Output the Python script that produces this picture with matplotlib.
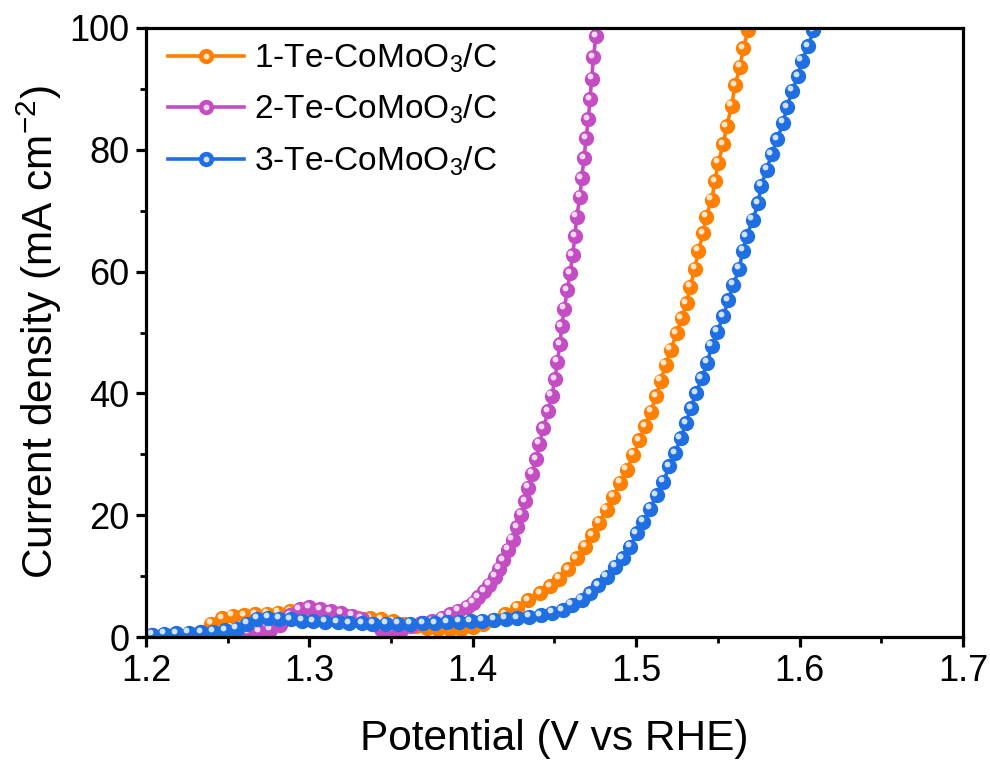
import numpy as np
import matplotlib
matplotlib.use("Agg")
import matplotlib.pyplot as plt
from matplotlib.transforms import offset_copy
from matplotlib.legend_handler import HandlerTuple
from matplotlib.ticker import MultipleLocator

plt.rcParams["font.family"] = ["Liberation Sans", "DejaVu Sans"]
plt.rcParams["mathtext.default"] = "regular"

# potential (V vs RHE) and current density (mA cm-2)
pot_1 = [1.2035, 1.2110, 1.2185, 1.2260, 1.2330, 1.2400, 1.2465, 1.2530, 1.2600, 1.2670,
         1.2740, 1.2810, 1.2880, 1.2950, 1.3020, 1.3090, 1.3160, 1.3230, 1.3300, 1.3370,
         1.3440, 1.3510, 1.3580, 1.3650, 1.3720, 1.3790, 1.3860, 1.3930, 1.4000, 1.4065,
         1.4126, 1.4197, 1.4269, 1.4340, 1.4411, 1.4472, 1.4530, 1.4585, 1.4636, 1.4687,
         1.4728, 1.4774, 1.4819, 1.4860, 1.4901, 1.4942, 1.4983, 1.5019, 1.5054, 1.5089,
         1.5121, 1.5150, 1.5180, 1.5211, 1.5248, 1.5278, 1.5309, 1.5330, 1.5360, 1.5380,
         1.5411, 1.5427, 1.5462, 1.5482, 1.5502, 1.5533, 1.5554, 1.5584, 1.5605, 1.5635,
         1.5656, 1.5686]
cur_1 = [0.3, 0.3, 0.4, 0.5, 0.9, 2.2, 3.1, 3.5, 3.6, 3.7,
         3.8, 4.0, 4.2, 4.2, 4.0, 3.8, 3.6, 3.4, 3.2, 3.1,
         2.9, 2.6, 2.2, 1.8, 1.5, 1.4, 1.3, 1.4, 1.7, 2.2,
         2.8, 3.7, 4.8, 6.0, 7.2, 8.3, 9.6, 11.1, 12.9, 14.8,
         16.7, 18.8, 20.9, 23.0, 25.3, 27.5, 29.9, 32.3, 34.6, 37.0,
         39.5, 42.1, 44.7, 47.2, 49.9, 52.3, 54.8, 57.5, 60.5, 63.4,
         66.3, 69.0, 71.8, 74.8, 77.9, 80.9, 83.9, 87.2, 90.6, 93.6,
         96.7, 99.7]

pot_2 = [1.2035, 1.2110, 1.2185, 1.2260, 1.2335, 1.2410, 1.2485, 1.2555, 1.2625, 1.2695,
         1.2760, 1.2820, 1.2880, 1.2940, 1.3000, 1.3065, 1.3130, 1.3195, 1.3260, 1.3320,
         1.3380, 1.3440, 1.3500, 1.3560, 1.3620, 1.3685, 1.3750, 1.3810, 1.3863, 1.3910,
         1.3963, 1.4000, 1.4034, 1.4069, 1.4101, 1.4136, 1.4162, 1.4187, 1.4217, 1.4244,
         1.4269, 1.4295, 1.4319, 1.4340, 1.4362, 1.4387, 1.4407, 1.4432, 1.4462, 1.4483,
         1.4503, 1.4517, 1.4534, 1.4544, 1.4560, 1.4578, 1.4595, 1.4611, 1.4625, 1.4636,
         1.4656, 1.4666, 1.4681, 1.4693, 1.4707, 1.4717, 1.4728, 1.4738, 1.4754]
cur_2 = [0.3, 0.3, 0.3, 0.4, 0.4, 0.5, 0.5, 0.6, 0.7, 0.9,
         1.2, 2.0, 3.6, 4.6, 4.9, 4.6, 4.2, 3.9, 3.5, 3.0,
         2.2, 1.4, 1.0, 1.2, 1.8, 2.3, 2.6, 3.2, 3.7, 4.3,
         5.0, 5.6, 6.5, 7.5, 8.6, 9.9, 11.2, 12.6, 14.3, 16.0,
         18.0, 20.1, 22.3, 24.5, 26.8, 29.2, 31.7, 34.3, 37.1, 39.6,
         42.3, 45.2, 48.1, 51.0, 53.9, 56.9, 59.7, 62.7, 65.8, 69.0,
         72.3, 75.3, 78.6, 81.9, 85.0, 88.3, 91.7, 95.2, 98.6]

pot_3 = [1.2035, 1.2110, 1.2185, 1.2260, 1.2335, 1.2410, 1.2485, 1.2555, 1.2620, 1.2680,
         1.2745, 1.2815, 1.2885, 1.2955, 1.3025, 1.3096, 1.3172, 1.3245, 1.3321, 1.3392,
         1.3470, 1.3545, 1.3617, 1.3694, 1.3770, 1.3841, 1.3918, 1.3987, 1.4058, 1.4130,
         1.4201, 1.4272, 1.4346, 1.4415, 1.4487, 1.4550, 1.4605, 1.4666, 1.4717, 1.4768,
         1.4819, 1.4870, 1.4917, 1.4962, 1.5003, 1.5043, 1.5084, 1.5125, 1.5166, 1.5203,
         1.5237, 1.5272, 1.5305, 1.5334, 1.5366, 1.5401, 1.5435, 1.5462, 1.5496, 1.5533,
         1.5564, 1.5594, 1.5631, 1.5652, 1.5676, 1.5713, 1.5747, 1.5764, 1.5799, 1.5829,
         1.5864, 1.5897, 1.5925, 1.5952, 1.5992, 1.6013, 1.6053, 1.6084]
cur_3 = [0.4, 0.5, 0.6, 0.7, 0.8, 0.9, 1.1, 1.4, 2.2, 3.0,
         3.2, 3.0, 2.9, 2.7, 2.6, 2.5, 2.4, 2.3, 2.3, 2.2,
         2.2, 2.2, 2.2, 2.3, 2.3, 2.4, 2.5, 2.6, 2.7, 2.8,
         3.0, 3.1, 3.3, 3.6, 4.0, 4.4, 5.3, 6.1, 7.2, 8.5,
         9.9, 11.5, 12.9, 14.8, 17.0, 18.9, 21.1, 23.3, 25.5, 28.0,
         30.2, 32.6, 35.1, 37.6, 40.0, 42.5, 45.0, 47.8, 50.1, 52.7,
         55.3, 57.8, 60.5, 63.4, 65.8, 68.5, 71.2, 74.1, 76.7, 79.3,
         81.7, 84.4, 87.0, 89.7, 92.1, 94.6, 97.0, 99.6]

labels = ["1-Te-CoMoO$_3$/C", "2-Te-CoMoO$_3$/C", "3-Te-CoMoO$_3$/C"]
colors = ["#FF8000", "#C44DC4", "#1F6FE3"]

fig = plt.figure(figsize=(9.9, 7.6), dpi=100)
ax = fig.add_axes([0.1475, 0.1618, 0.8252, 0.8014])

handles = []
for x, y, c, lab in zip([pot_1, pot_2, pot_3], [cur_1, cur_2, cur_3], colors, labels):
    line, = ax.plot(x, y, "-o", color=c, lw=2.6, ms=10, mec=c, mfc=c, label=lab)
    # small light spot on each ball
    shine = offset_copy(ax.transData, fig=fig, x=-1.6, y=1.8, units="points")
    hl, = ax.plot(x, y, "o", ms=4.2, color="white", mec="none", alpha=0.8,
                  transform=shine)
    handles.append((line, hl))

ax.set_xlim(1.2, 1.7)
ax.set_ylim(0, 100)
ax.xaxis.set_major_locator(MultipleLocator(0.1))
ax.xaxis.set_minor_locator(MultipleLocator(0.05))
ax.yaxis.set_major_locator(MultipleLocator(20))
ax.yaxis.set_minor_locator(MultipleLocator(10))
ax.set_xticklabels([f"{t:.1f}" for t in ax.get_xticks()])

for s in ax.spines.values():
    s.set_linewidth(2.3)
ax.tick_params(which="major", direction="out", length=7, width=2.3, labelsize=26, pad=5)
ax.tick_params(which="minor", direction="out", length=4.5, width=2.0)

ax.set_xlabel("Potential (V vs RHE)", fontsize=30.5, labelpad=22)
ax.set_ylabel("Current density (mA cm$^{-2}$)", fontsize=30.5, labelpad=4)

ax.legend(handles, labels, handler_map={tuple: HandlerTuple(ndivide=1)},
          loc="upper left", frameon=False, fontsize=24, handlelength=2.3,
          handletextpad=0.3, labelspacing=0.55, borderaxespad=0.0,
          bbox_to_anchor=(0.01, 1.0))

fig.savefig("out.png", dpi=100)
